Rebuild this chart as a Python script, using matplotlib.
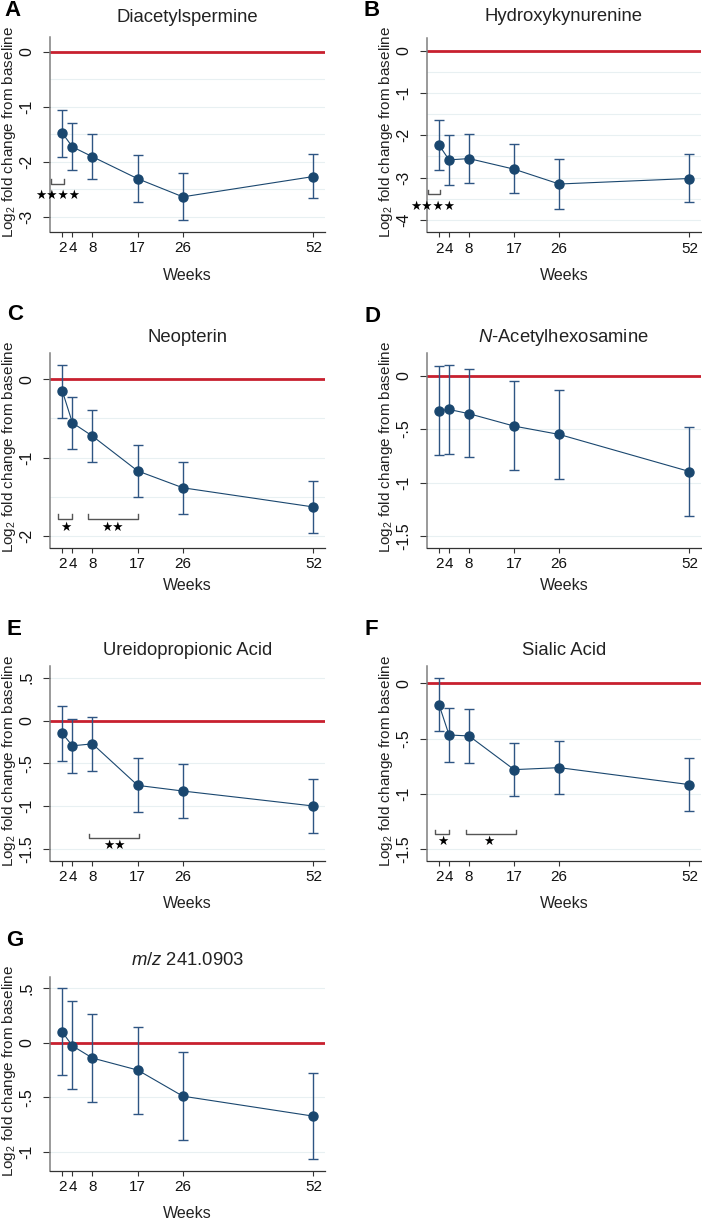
import matplotlib
matplotlib.use("Agg")
import matplotlib.pyplot as plt
import numpy as np

plt.rcParams['font.family'] = ['Liberation Sans', 'DejaVu Sans']
plt.rcParams['mathtext.fontset'] = 'custom'
plt.rcParams['mathtext.rm'] = 'Liberation Sans'
plt.rcParams['mathtext.it'] = 'Liberation Sans:italic'

# ---------------- data ----------------
weeks = [2, 4, 8, 17, 26, 52]
week_labels = ["2", "4", "8", "17", "26", "52"]

titles = ["Diacetylspermine", "Hydroxykynurenine", "Neopterin",
          r"$\it{N}$-Acetylhexosamine", "Ureidopropionic Acid", "Sialic Acid",
          r"$\it{m/z}$ 241.0903"]
letters = ["A", "B", "C", "D", "E", "F", "G"]

mean_A = [-1.48, -1.73, -1.91, -2.31, -2.64, -2.27]
lo_A   = [-1.91, -2.15, -2.31, -2.73, -3.06, -2.67]
hi_A   = [-1.06, -1.30, -1.50, -1.88, -2.20, -1.86]

mean_B = [-2.23, -2.58, -2.55, -2.80, -3.15, -3.02]
lo_B   = [-2.83, -3.17, -3.13, -3.37, -3.74, -3.58]
hi_B   = [-1.64, -1.99, -1.97, -2.21, -2.56, -2.43]

mean_C = [-0.15, -0.555, -0.725, -1.17, -1.385, -1.63]
lo_C   = [-0.49, -0.895, -1.06, -1.505, -1.72, -1.965]
hi_C   = [0.18, -0.22, -0.39, -0.84, -1.05, -1.30]

mean_D = [-0.328, -0.316, -0.356, -0.472, -0.55, -0.897]
lo_D   = [-0.74, -0.734, -0.763, -0.884, -0.966, -1.31]
hi_D   = [0.094, 0.103, 0.063, -0.053, -0.131, -0.484]

mean_E = [-0.151, -0.295, -0.272, -0.757, -0.823, -0.998]
lo_E   = [-0.47, -0.614, -0.59, -1.068, -1.142, -1.313]
hi_E   = [0.167, 0.023, 0.043, -0.443, -0.505, -0.683]

mean_F = [-0.193, -0.468, -0.477, -0.782, -0.764, -0.918]
lo_F   = [-0.435, -0.713, -0.719, -1.018, -1.003, -1.157]
hi_F   = [0.048, -0.227, -0.236, -0.538, -0.52, -0.68]

mean_G = [0.098, -0.028, -0.14, -0.25, -0.489, -0.672]
lo_G   = [-0.299, -0.425, -0.538, -0.648, -0.889, -1.066]
hi_G   = [0.501, 0.382, 0.26, 0.147, -0.086, -0.275]

yticks_A = [0, -1, -2, -3];        ylabels_A = ["0", "-1", "-2", "-3"]
yticks_B = [0, -1, -2, -3, -4];    ylabels_B = ["0", "-1", "-2", "-3", "-4"]
yticks_C = [0, -1, -2];            ylabels_C = ["0", "-1", "-2"]
yticks_D = [0, -0.5, -1, -1.5];    ylabels_D = ["0", "-.5", "-1", "-1.5"]
yticks_E = [0.5, 0, -0.5, -1, -1.5]; ylabels_E = [".5", "0", "-.5", "-1", "-1.5"]
yticks_F = [0, -0.5, -1, -1.5];    ylabels_F = ["0", "-.5", "-1", "-1.5"]
yticks_G = [0.5, 0, -0.5, -1];     ylabels_G = [".5", "0", "-.5", "-1"]

# significance brackets: (x0, x1, y, stars, star_x, star_y)
sig_A = [(-0.2, 2.3, -2.40, "★★★★", 1.0, -2.62)]
sig_B = [(-0.25, 2.25, -3.39, "★★★★", 0.7, -3.68)]
sig_C = [(1.2, 4.0, -1.78, "★", 2.7, -1.89), (7.1, 17.0, -1.78, "★★", 12.0, -1.89)]
sig_D = []
sig_E = [(7.4, 17.3, -1.375, "★★", 12.4, -1.46)]
sig_F = [(1.2, 4.0, -1.369, "★", 2.7, -1.43), (7.4, 17.3, -1.369, "★", 12.0, -1.43)]
sig_G = []

panels = [
    (mean_A, lo_A, hi_A, yticks_A, ylabels_A, sig_A),
    (mean_B, lo_B, hi_B, yticks_B, ylabels_B, sig_B),
    (mean_C, lo_C, hi_C, yticks_C, ylabels_C, sig_C),
    (mean_D, lo_D, hi_D, yticks_D, ylabels_D, sig_D),
    (mean_E, lo_E, hi_E, yticks_E, ylabels_E, sig_E),
    (mean_F, lo_F, hi_F, yticks_F, ylabels_F, sig_F),
    (mean_G, lo_G, hi_G, yticks_G, ylabels_G, sig_G),
]

# ---------------- layout (pixels) ----------------
W, H = 702, 1219
rects = [(50, 325, 37, 232), (426.7, 701, 38.3, 232.3),
         (50, 325, 352.7, 547.7), (426.7, 701, 352.7, 547.7),
         (50, 325, 666, 861), (426.7, 701, 666, 861),
         (50, 325, 976.7, 1171)]
ylims = [(-3.28, 0.27), (-4.29, 0.29), (-2.15, 0.34), (-1.61, 0.215),
         (-1.64, 0.637), (-1.61, 0.157), (-1.174, 0.605)]
gridsteps = [0.5, 0.5, 0.5, 0.5, 0.5, 0.5, 0.5]
title_base = [21.7, 20.7, 341.7, 341.7, 655, 655, 965]
letter_pos = [(12.5, 10), (371.5, 11), (15, 315), (372, 316.5),
              (14, 629.5), (371.5, 629.5), (15, 940)]
weeks_y = [275, 275, 586, 586, 903, 903, 1213]

navy = '#1a476f'
ebar = '#2e5583'
red = '#c8202f'
grid = '#e8f0f2'

fig = plt.figure(figsize=(W / 100, H / 100), dpi=100)

for i, (m, lo, hi, yt, yl, sig) in enumerate(panels):
    l, r, t, b = rects[i]
    ax = fig.add_axes([l / W, 1 - b / H, (r - l) / W, (b - t) / H])
    ax.set_xlim(-0.46, 54.3)
    ax.set_ylim(*ylims[i])
    y0, y1 = ylims[i]
    g = np.arange(np.ceil(y0 / gridsteps[i]) * gridsteps[i], y1 + 1e-9, gridsteps[i])
    for gy in g:
        ax.axhline(gy, color=grid, lw=0.8, zorder=0)
    ax.axhline(0, color=red, lw=2.0, zorder=1)
    m = np.array(m); lo = np.array(lo); hi = np.array(hi)
    ax.errorbar(weeks, m, yerr=[m - lo, hi - m], fmt='none', ecolor=ebar,
                elinewidth=1.0, capsize=3.3, capthick=1.0, zorder=2)
    ax.plot(weeks, m, color=navy, lw=0.8, marker='o', ms=6.5, zorder=3)

    ax.set_xticks(weeks)
    ax.set_xticklabels(week_labels)
    ax.set_yticks(yt)
    ax.set_yticklabels(yl)
    ax.tick_params(axis='x', length=3.8, width=0.8, color='#333333',
                   labelsize=11, pad=3, labelcolor='#111111')
    ax.tick_params(axis='y', length=5, width=0.8, color='#333333',
                   labelsize=11.5, pad=6, labelrotation=90, labelcolor='#111111')
    for lab in ax.get_yticklabels():
        lab.set_va('center')
    for s in ['top', 'right']:
        ax.spines[s].set_visible(False)
    ax.spines['left'].set_color('#7f7f7f')
    ax.spines['left'].set_linewidth(1.1)
    ax.spines['bottom'].set_color('#333333')
    ax.spines['bottom'].set_linewidth(0.9)

    # significance brackets
    pxu = (b - t) / (y1 - y0)
    th = 4.5 / pxu
    for (x0, x1, yb, stars, sx, sy) in sig:
        ax.plot([x0, x0, x1, x1], [yb + th, yb, yb, yb + th], color='#555555',
                lw=1.0, zorder=4, clip_on=False)
        ax.text(sx, sy, stars, ha='center', va='center', fontsize=9,
                family='DejaVu Sans', color='black', zorder=4)

    cx = (l + r) / 2
    fig.text(cx / W, 1 - title_base[i] / H, titles[i], ha='center',
             va='baseline', fontsize=13.3, color='#222222')
    fig.text(cx / W, 1 - weeks_y[i] / H, "Weeks", ha='center', va='center',
             fontsize=11.5, color='#222222')
    fig.text((l - 40.5) / W, 1 - ((t + b) / 2 - 3) / H,
             r"Log$_2$ fold change from baseline", rotation=90,
             ha='center', va='center', fontsize=11, color='#222222')
    lx, ly = letter_pos[i]
    fig.text(lx / W, 1 - ly / H, letters[i], ha='center', va='center',
             fontsize=16, fontweight='bold', color='black')

fig.savefig("out.png", dpi=100, facecolor='white')
